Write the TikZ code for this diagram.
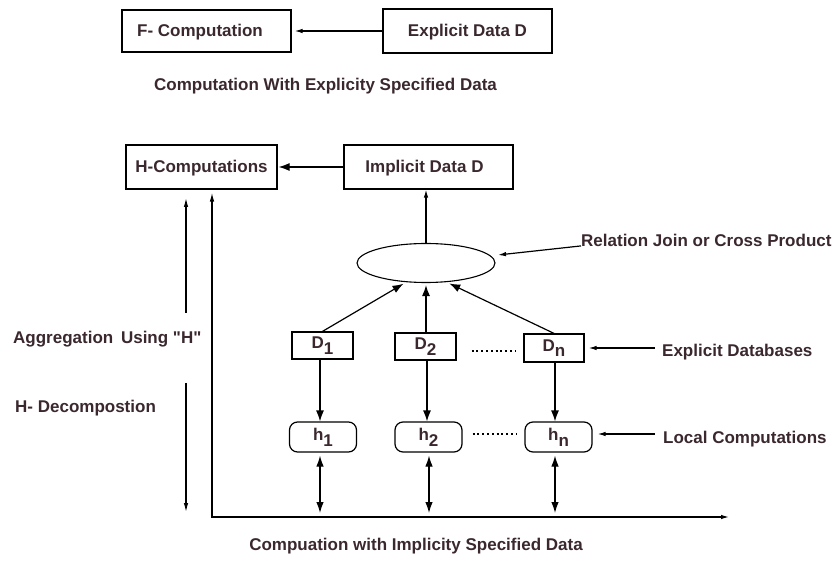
\documentclass[tikz,border=0pt]{standalone}
\usepackage{fontspec}
\setmainfont{Liberation Sans}
\usetikzlibrary{arrows.meta,shapes.geometric}
\definecolor{txt}{RGB}{58,40,46}
\newcommand{\lowr}[1]{\raisebox{-5.5pt}{#1}}
\begin{document}
\begin{tikzpicture}[x=1pt,y=-1pt,
  font=\fontsize{17}{20}\selectfont\bfseries,
  every node/.style={text=txt},
  box/.style={draw=black,line width=1.2pt,inner sep=0pt,text height=12pt,text depth=0pt},
  dbox/.style={draw=black,line width=1.2pt,inner sep=0pt,minimum width=61pt,minimum height=27pt,text height=12pt,text depth=5pt},
  hbox/.style={draw=black,line width=1.2pt,rounded corners=8pt,inner sep=0pt,minimum width=67pt,minimum height=30pt,text height=12pt,text depth=5pt},
  lbl/.style={anchor=base west,inner sep=0pt},
  captxt/.style={anchor=base,inner sep=0pt},
  conn/.style={line width=1.2pt},
  big/.style={conn,-{Latex[length=11pt,width=8pt]}},
  dbl/.style={conn,{Latex[length=11pt,width=7.5pt]}-{Latex[length=11pt,width=7.5pt]}},
  thin/.style={conn,-{Latex[length=8pt,width=4.5pt]}},
  dots/.style={line width=1.3pt,dash pattern=on 2pt off 2.8pt}
]
\useasboundingbox (0,0) rectangle (833,561);

% top part
\node[box,minimum width=169pt,minimum height=42pt] (F) at (206.5,31) {F- Computation\hspace*{13pt}};
\node[box,minimum width=169pt,minimum height=44pt] (ED) at (467.5,31) {Explicit Data D};
\draw[thin,shorten >=3pt] (ED.west) -- (F.east);
\node[captxt] (cap1) at (325.5,91) {Computation With Explicity Specified Data};

% middle
\node[box,minimum width=151pt,minimum height=44pt] (HC) at (201.5,167) {H-Computations};
\node[box,minimum width=169pt,minimum height=44pt] (ID) at (428.5,167) {Implicit Data D\hspace*{8pt}};
\draw[big,shorten >=1pt] (ID.west) -- (HC.east);
\node[draw=black,line width=1.1pt,ellipse,minimum width=138pt,minimum height=39pt,inner sep=0pt] (el) at (426,263) {};
\draw[thin] (el.north) -- (el.north |- ID.south);

\node[lbl] (rel) at (581,247) {Relation Join or Cross Product};
\coordinate (reltip) at (498,255);
\draw[thin] ([yshift=-5pt]rel.west) -- (reltip);

% databases
\node[dbox] (D1) at (322.5,345.5) {D\lowr{1}};
\node[dbox] (D2) at (425.5,346.5) {D\lowr{2}};
\node[dbox,minimum width=60pt,minimum height=28pt] (Dn) at (554,348) {D\lowr{n}};
\draw[dots] ([xshift=15pt]D2.east |- 0,351) -- ([xshift=-7pt]Dn.west |- 0,351);

\draw[big,shorten >=3pt] (D1.north) -- (el.224);
\draw[big,shorten >=2pt] (D2.north -| el.south) -- (el.south);
\draw[big,shorten >=3pt] (Dn.north) -- (el.317);

\node[lbl] (edb) at (662,356.5) {Explicit Databases};
\draw[thin,shorten >=4pt] ([xshift=-7pt]edb.west |- Dn.east) -- (Dn.east);

% local computations
\node[hbox] (h1) at (323,437) {h\lowr{1}};
\node[hbox] (h2) at (428.5,437) {h\lowr{2}};
\node[hbox] (hn) at (558.5,437) {h\lowr{n}};
\draw[dots] ([xshift=10pt]h2.east |- 0,434) -- ([xshift=-8pt]hn.west |- 0,434);

\draw[big] (D1.south -| 320,0) -- (h1.north -| 320,0);
\draw[big] (D2.south -| 427,0) -- (h2.north -| 427,0);
\draw[big] (Dn.south -| 555,0) -- (hn.north -| 555,0);

\node[lbl] (lc) at (663,443) {Local Computations};
\draw[thin,shorten >=5pt] ([xshift=-8pt]lc.west |- 0,434) -- (hn.east |- 0,434);

% axis
\coordinate (corner) at (212,517);
\coordinate (axend) at (729,517);
\draw[conn,{Latex[length=9pt,width=4.5pt]}-{Latex[length=8pt,width=4.5pt]},shorten <=3pt] (corner |- HC.south) -- (corner) -- (axend);

\draw[dbl,shorten <=3pt,shorten >=4pt] (h1.south -| 320,0) -- (320,517);
\draw[dbl,shorten <=3pt,shorten >=4pt] (h2.south -| 429,0) -- (429,517);
\draw[dbl,shorten <=3pt,shorten >=4pt] (hn.south -| 555,0) -- (555,517);

% left side
\coordinate (agA) at (186,313);
\coordinate (agB) at (186,198);
\coordinate (deA) at (186,383);
\coordinate (deB) at (186,512);
\draw[conn,-{Latex[length=9pt,width=4.5pt]}] (agA) -- (agB);
\draw[conn,-{Latex[length=9pt,width=4.5pt]}] (deA) -- (deB);
\node[lbl] (agg) at (13,344) {Aggregation\hspace{3pt} Using \textquotedbl H\textquotedbl};
\node[lbl] (dec) at (15,412) {H- Decompostion};

\node[captxt] (cap2) at (416,550) {Compuation with Implicity Specified Data};
\end{tikzpicture}
\end{document}
